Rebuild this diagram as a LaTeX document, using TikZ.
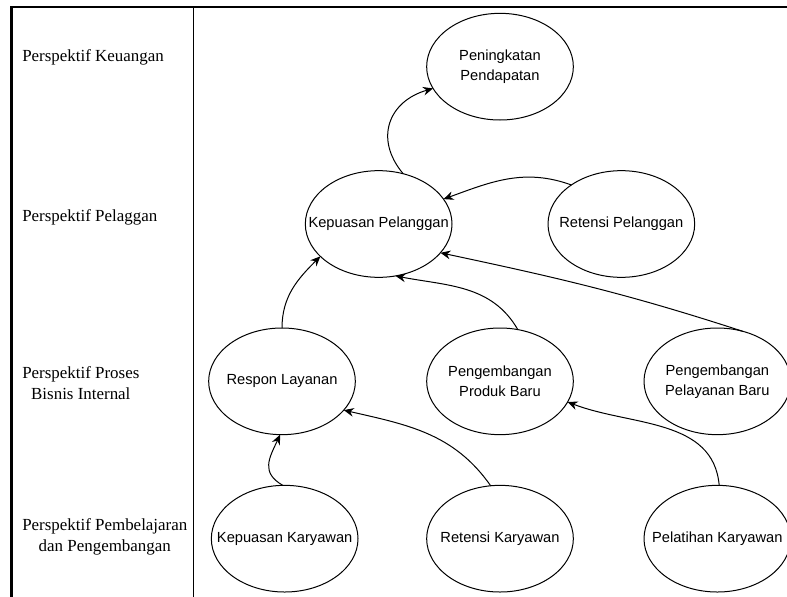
\documentclass[tikz,border=0pt]{standalone}
\usepackage{fontspec}
\setmainfont{Liberation Serif}
\newfontfamily\ellfont{Liberation Sans}
\usepackage{tikz}
\usetikzlibrary{shapes.geometric, arrows.meta}
\tikzstyle{objective} = [ellipse, draw=black, line width=0.75pt, minimum width=110pt, minimum height=80pt, inner xsep=-25pt, inner ysep=0pt, outer sep=0pt, align=center, font=\ellfont\fontsize{11}{15}\selectfont]
\tikzstyle{perspective} = [anchor=west, inner sep=0pt, align=center, font=\fontsize{12.7}{15.75}\selectfont]
\tikzstyle{arrow} = [line width=0.75pt, ->, >={Stealth[length=7.5pt, width=6.5pt, inset=2.5pt]}]
\tikzstyle{frame} = [line width=1.9pt]
\tikzstyle{divider} = [line width=0.8pt]

\begin{document}
\begin{tikzpicture}[node distance=118pt, x=1pt, y=1pt]
\useasboundingbox (0,0) rectangle (590.25,-447);

% frame and column line
\coordinate (tl) at (8.6,-5.25);
\coordinate (tr) at (595,-5.25);
\coordinate (bl) at (8.6,-452);
\coordinate (dt) at (145,-5.25);
\coordinate (db) at (145,-452);
\draw [frame] (tr) -- (tl) -- (bl);
\draw [divider] (dt) -- (db);

% perspectives
\node (lkeu) [perspective] at (16.5,-42.75) {Perspektif Keuangan};
\node (lpel) [perspective] at (16.5,-162.75) {Perspektif Pelaggan};
\node (lpro) [perspective] at (16.5,-287) {Perspektif Proses\\Bisnis Internal};
\node (lpem) [perspective] at (16.5,-403) {Perspektif Pembelajaran\\dan Pengembangan};

% objectives
\node (pend) [objective] at (375,-50) {Peningkatan\\Pendapatan};
\node (kpel) [objective, below of=pend, xshift=-91pt] {Kepuasan Pelanggan};
\node (rpel) [objective, right of=kpel, xshift=64pt] {Retensi Pelanggan};
\node (pprod) [objective, below of=kpel, xshift=91pt] {Pengembangan\\Produk Baru};
\node (resp) [objective, left of=pprod, xshift=-45.5pt] {Respon Layanan};
\node (ppel) [objective, right of=pprod, xshift=45pt] {Pengembangan\\Pelayanan Baru};
\node (kkar) [objective, below of=resp, xshift=2pt] {Kepuasan Karyawan};
\node (rkar) [objective, below of=pprod] {Retensi Karyawan};
\node (plat) [objective, below of=ppel] {Pelatihan Karyawan};

\draw [arrow] (kpel.64) to[out=130, in=196, looseness=1.3] (pend.198);
\draw [arrow] (rpel.142) to[out=160, in=20] (kpel.21);
\draw [arrow] (resp.90) to[out=90, in=225] (kpel.209);
\draw [arrow] (pprod.71) to[out=120, in=-11] (kpel.288);
\draw [arrow] (ppel.63) to[out=162, in=-12] (kpel.335);
\draw [arrow] (kkar.92) to[out=150, in=245, looseness=1.3] (resp.268);
\draw [arrow] (rkar.100) to[out=125, in=-13] (resp.335);
\draw [arrow] (plat.88) to[out=95, in=-21] (pprod.343);

\end{tikzpicture}
\end{document}
